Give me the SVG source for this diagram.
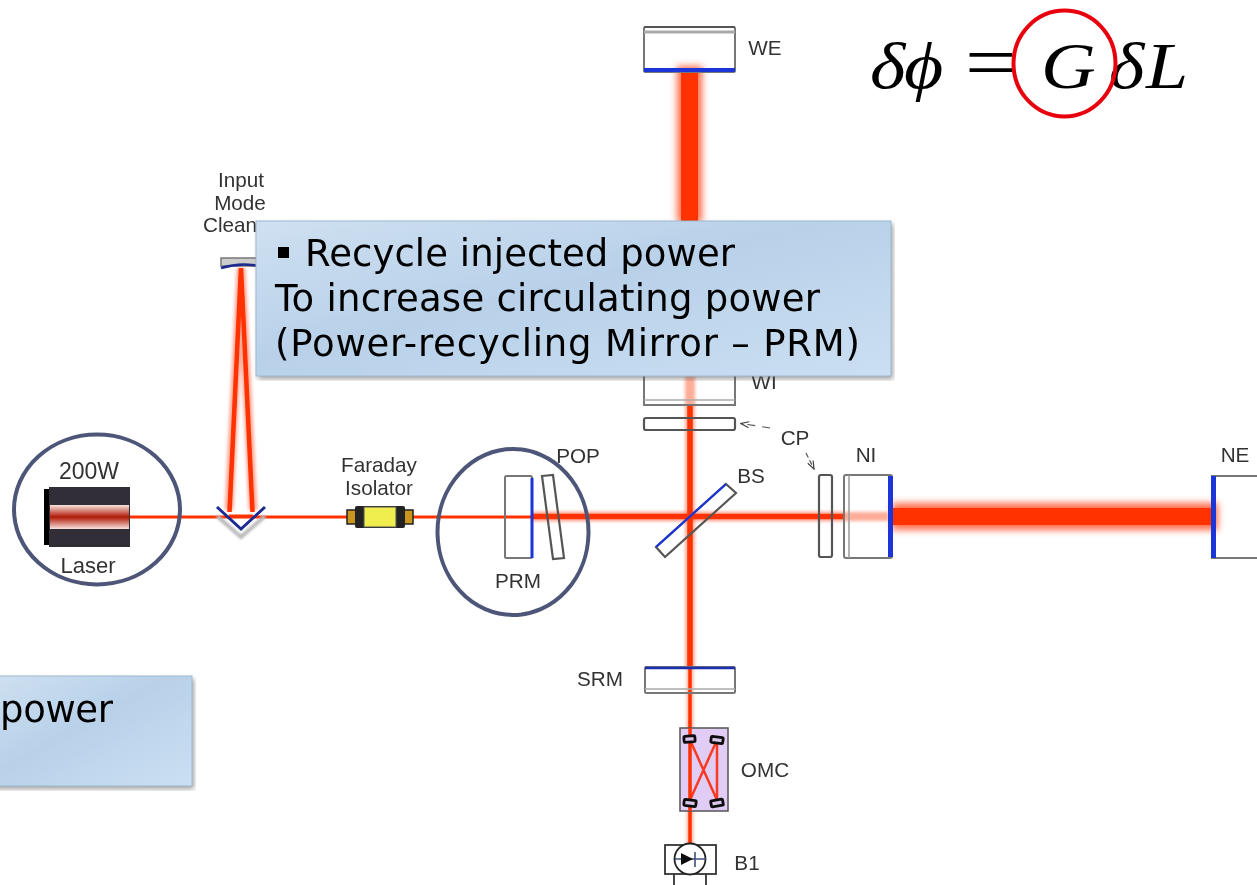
<svg xmlns="http://www.w3.org/2000/svg" width="1257" height="885" viewBox="0 0 1257 885">
<style>
.l{font-family:"Liberation Sans",Arial,sans-serif;fill:#333;font-size:20.700px}
.c{font-family:"DejaVu Sans",Verdana,sans-serif;fill:#000;font-size:37px}
.m{font-family:"Liberation Serif","Times New Roman",serif;fill:#000;font-size:66px;font-style:italic}
.eq{font-family:"Liberation Serif","Times New Roman",serif;fill:#000;font-size:76px}
.o{fill:none;stroke:#777;stroke-width:2}
.d{fill:none;stroke:#555;stroke-width:2.200}
.ring{fill:none;stroke:#4e5678;stroke-width:4}
.beam{stroke:#ff3000;fill:none}
.mir{fill:#1a35d8}
</style>
<defs>
<filter id="soft" filterUnits="userSpaceOnUse" x="0" y="0" width="1257" height="885"><feGaussianBlur stdDeviation=".55"/></filter>
<filter id="soft2" filterUnits="userSpaceOnUse" x="0" y="0" width="1257" height="885"><feGaussianBlur stdDeviation=".35"/></filter>
<filter id="b" filterUnits="userSpaceOnUse" x="0" y="0" width="1257" height="885"><feGaussianBlur stdDeviation="3.500"/></filter>
<filter id="b3" filterUnits="userSpaceOnUse" x="0" y="0" width="1257" height="885"><feGaussianBlur stdDeviation="1.800"/></filter>
<filter id="b2" filterUnits="userSpaceOnUse" x="0" y="0" width="1257" height="885"><feGaussianBlur stdDeviation="1"/></filter>
<filter id="sh" filterUnits="userSpaceOnUse" x="0" y="0" width="1257" height="885"><feGaussianBlur stdDeviation="2.500"/></filter>
<linearGradient id="g1" x1="0" y1="0" x2="1" y2="1"><stop offset="0" stop-color="#cfe0f1"/><stop offset=".45" stop-color="#b8d1e9"/><stop offset="1" stop-color="#cbdff2"/></linearGradient>
<linearGradient id="las" x1="0" y1="0" x2="0" y2="1"><stop offset="0" stop-color="#f8e4de"/><stop offset=".5" stop-color="#b01808"/><stop offset="1" stop-color="#f8e4de"/></linearGradient>
<marker id="ah" markerUnits="userSpaceOnUse" markerWidth="10" markerHeight="8" refX="9" refY="4" orient="auto"><path d="M1 1L9 4L1 7" fill="none" stroke="#444" stroke-width="1.200"/></marker>
</defs>

<g filter="url(#soft)">
<g id="connectors">
<g filter="url(#b)">
<rect x="677" y="66" width="25" height="156" fill="#ff3000" opacity=".7"/>
<rect x="892" y="503" width="326" height="27" fill="#ff3000" opacity=".7"/>
</g>
<g filter="url(#b3)">
<path d="M690 376V668" stroke="#ff3000" stroke-width="10" fill="none" opacity=".4"/>
<path d="M690 668V845" stroke="#ff3000" stroke-width="7" fill="none" opacity=".35"/>
<path d="M532 516.500H845" stroke="#ff3000" stroke-width="10" fill="none" opacity=".4"/>
<path d="M845 516.500H888" stroke="#ff3000" stroke-width="9" fill="none" opacity=".4"/>
<path d="M241 268L229 510M241 268L253 510" stroke="#ff3000" stroke-width="9" fill="none" opacity=".4"/>
</g>
<rect x="681" y="72" width="17" height="150" fill="#ff3000"/>
<rect x="892" y="508" width="320" height="17" fill="#ff3000"/>
<path class="beam" stroke-width="3" d="M130 517H505M505 517H532"/>
<path class="beam" stroke-width="5.500" d="M532 516.500H845"/>
<path class="beam" stroke-width="5.500" d="M690 405V668"/>
<path class="beam" stroke-width="3.500" d="M690 668V845"/>
<path class="beam" stroke-width="4.500" d="M241 268L229.500 512M241 268L252.500 512"/>
<path d="M229 516H253" stroke="#ff3000" stroke-width="3"/>
</g>

<g id="laser">
<rect x="44" y="489" width="7" height="56" fill="#000"/>
<rect x="49" y="487" width="81" height="60" fill="#312e38"/>
<rect x="50" y="505" width="79" height="24" fill="url(#las)"/>
<text class="l" x="89" y="479" text-anchor="middle" style="font-size:23px">200W</text>
<text class="l" x="88" y="573" text-anchor="middle" style="font-size:22px">Laser</text>
<ellipse class="ring" cx="97" cy="509.500" rx="83" ry="75"/>
</g>

<g id="imc-mirror">
<path d="M217 516L241 537L265 516" fill="none" stroke="#bbb" stroke-width="4" filter="url(#b2)"/>
<path d="M217 507L241 529L265 507" fill="none" stroke="#1a2a90" stroke-width="3"/>
</g>

<g id="imc">
<rect x="221" y="258" width="40" height="8" fill="#ccc" stroke="#777" stroke-width="1.500"/>
<path d="M221 268Q240 262 260 266" fill="none" stroke="#1a2a90" stroke-width="2.500"/>
<text class="l" x="241" y="187" text-anchor="middle">Input</text>
<text class="l" x="240" y="210" text-anchor="middle">Mode</text>
<text class="l" x="203" y="232">Cleaner</text>
</g>

<g id="faraday">
<rect x="347" y="510" width="9" height="14" fill="#c8961a" stroke="#222" stroke-width="1.500"/>
<rect x="404" y="510" width="9" height="14" fill="#c8961a" stroke="#222" stroke-width="1.500"/>
<rect x="355" y="506" width="50" height="22" rx="2" fill="#222"/>
<rect x="364" y="507" width="32" height="20" fill="#f0ee50" stroke="#555"/>
<text class="l" x="379" y="472" text-anchor="middle">Faraday</text>
<text class="l" x="379" y="495" text-anchor="middle">Isolator</text>
</g>

<g id="prm">
<rect class="o" x="505" y="476" width="27" height="82" rx="1.500"/>
<rect class="mir" x="530.500" y="478" width="3" height="80"/>
<text class="l" x="518" y="588" text-anchor="middle">PRM</text>
</g>
<g id="pop">
<path class="d" d="M542 476L553 475L564 558L553 559Z"/>
<text class="l" x="578" y="463" text-anchor="middle">POP</text>
</g>
<ellipse id="prm-ring" class="ring" cx="513" cy="532" rx="75.500" ry="83"/>

<g id="bs">
<path class="d" d="M726 484L736 493L665 557L656 547Z" stroke="#666"/>
<path d="M726 484L656 547" stroke="#1a35d8" stroke-width="2.200"/>
<text class="l" x="751" y="483" text-anchor="middle">BS</text>
</g>

<g id="we">
<rect class="o" x="644" y="27" width="91" height="45" rx="1.500"/>
<path d="M644 32H735" stroke="#aaa" stroke-width="3"/>
<rect class="mir" x="644" y="68" width="91" height="4"/>
<path d="M644 27H735" stroke="#333" stroke-width="1.200"/>
<text class="l" x="765" y="55" text-anchor="middle">WE</text>
</g>

<g id="wi">
<path class="o" d="M644 370V405H735V370"/>
<path d="M644 400H735" stroke="#aaa" stroke-width="1.500"/>
<rect class="d" x="644" y="418" width="91" height="12" rx="2"/>
<text class="l" x="764" y="389" text-anchor="middle">WI</text>
</g>

<g id="cp">
<rect class="d" x="819" y="475" width="13" height="82" rx="2"/>
<path d="M770 428L741 423.500" fill="none" stroke="#555" stroke-width="1.200" stroke-dasharray="8 7" marker-end="url(#ah)"/>
<path d="M806 453L814 469" fill="none" stroke="#555" stroke-width="1.200" stroke-dasharray="5 3" marker-end="url(#ah)"/>
<text class="l" x="795" y="445" text-anchor="middle">CP</text>
</g>

<g id="ni">
<rect class="o" x="844" y="475" width="48" height="83" rx="2"/>
<path d="M849 475V558" stroke="#999" stroke-width="1.500"/>
<rect class="mir" x="888" y="476" width="5" height="81"/>
<text class="l" x="866" y="462" text-anchor="middle">NI</text>
</g>

<g id="ne">
<rect class="o" x="1212" y="476" width="46" height="82"/>
<rect class="mir" x="1211" y="476" width="5" height="82"/>
<text class="l" x="1235" y="462" text-anchor="middle">NE</text>
</g>

<g id="srm">
<rect class="o" x="645" y="667" width="90" height="26" rx="1.500"/>
<path d="M645 689H735" stroke="#aaa" stroke-width="1.500"/>
<path d="M645 668H735" stroke="#1a2fb0" stroke-width="2.500"/>
<text class="l" x="600" y="686" text-anchor="middle">SRM</text>
</g>

<g id="omc">
<rect x="680" y="728" width="48" height="83" fill="#e0ccf4" stroke="#555" stroke-width="1.500"/>
<path d="M690 740L717 800M717 740L690 800M717 740V800" fill="none" stroke="#f83a20" stroke-width="2.500"/>
<path class="beam" stroke-width="3.500" d="M690 728V811"/>
<g fill="#d9c6ec" stroke="#111" stroke-width="2.800">
<rect x="684" y="736" width="11" height="6" rx="1" transform="rotate(-5 690 739)"/>
<rect x="711" y="737" width="12" height="6" rx="1" transform="rotate(8 717 740)"/>
<rect x="684" y="800" width="12" height="6" rx="1" transform="rotate(8 690 803)"/>
<rect x="711" y="800" width="12" height="6" rx="1" transform="rotate(-10 717 803)"/>
</g>
<text class="l" x="765" y="777" text-anchor="middle">OMC</text>
</g>

<g id="b1">
<rect x="665" y="845" width="51" height="29" fill="#fff" stroke="#333" stroke-width="1.800"/>
<circle cx="690" cy="859" r="15.500" fill="#fff" stroke="#222" stroke-width="1.800"/>
<path d="M675 859H706M695 852V867" stroke="#3d5080" stroke-width="1.600" fill="none"/>
<path d="M681 853L693 859L681 865Z" fill="#111"/>
<path d="M674 874V885M706 874V885" stroke="#333" stroke-width="1.800"/>
<text class="l" x="747" y="870" text-anchor="middle">B1</text>
</g>
</g>

<g id="equation" filter="url(#soft2)">
<text class="m" transform="translate(870 88) scale(1.150 1)" x="0" y="0">δ</text>
<text class="m" transform="translate(904 88) scale(1.150 1)" x="0" y="0">ϕ</text>
<text class="eq" transform="translate(965 88) scale(1.200 1)" x="0" y="0">=</text>
<text class="m" transform="translate(1041 88) scale(1.150 1)" x="0" y="0">G</text>
<text class="m" transform="translate(1109 88) scale(1.150 1)" x="0" y="0">δ</text>
<text class="m" transform="translate(1146 88) scale(1.150 1)" x="0" y="0">L</text>
<ellipse cx="1064.500" cy="63.500" rx="51" ry="53" fill="none" stroke="#e8000e" stroke-width="4"/>
</g>

<g id="callout-recycle" filter="url(#soft2)">
<rect x="258" y="224" width="635" height="155" fill="#555" opacity=".55" filter="url(#sh)"/>
<rect x="256" y="221" width="635" height="155" fill="url(#g1)" stroke="#9db9d2" stroke-width="1"/>
<rect x="278" y="247" width="11" height="11" fill="#000"/>
<text class="c" x="305" y="266" textLength="430" lengthAdjust="spacing">Recycle injected power</text>
<text class="c" x="275" y="311" textLength="545" lengthAdjust="spacing">To increase circulating power</text>
<text class="c" x="275" y="356" textLength="585" lengthAdjust="spacing">(Power-recycling Mirror – PRM)</text>
</g>

<g id="callout-power" filter="url(#soft2)">
<rect x="-10" y="679" width="204" height="110" fill="#555" opacity=".55" filter="url(#sh)"/>
<rect x="-10" y="676" width="202" height="110" fill="url(#g1)" stroke="#9db9d2" stroke-width="1"/>
<text class="c" x="0" y="722" textLength="113" lengthAdjust="spacing">power</text>
</g>
</svg>
